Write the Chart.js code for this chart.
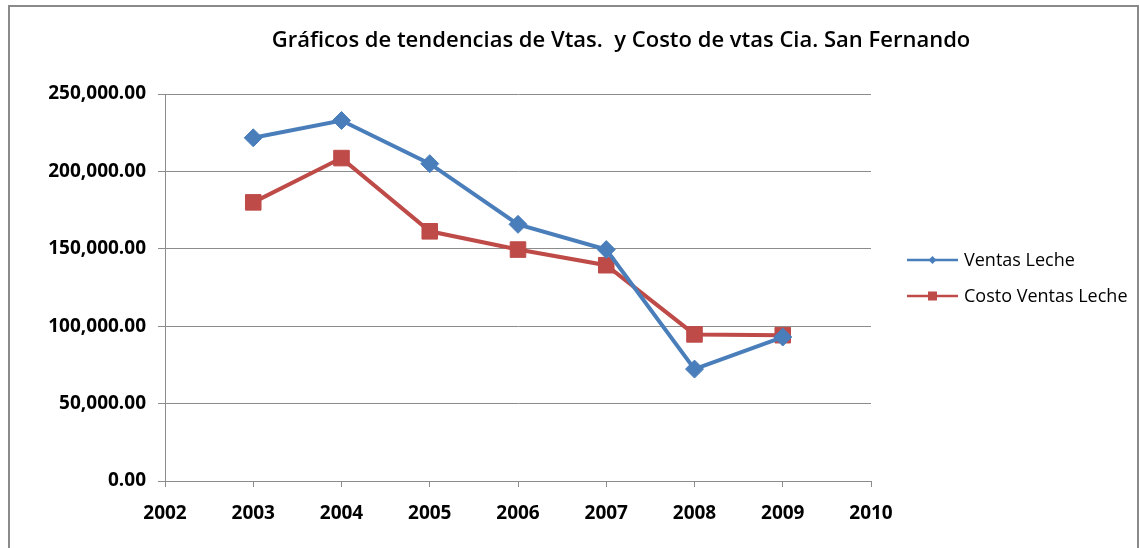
<!DOCTYPE html>
<html>
<head>
<meta charset="utf-8">
<script src="https://cdn.jsdelivr.net/npm/chart.js@4/dist/chart.umd.min.js"></script>
<style>
  html, body { margin: 0; padding: 0; background: #fff; overflow: hidden; }
  #frame {
    position: absolute; left: 8px; top: 5px; width: 1131px; height: 600px;
    border: 2px solid #8a8a8a; box-sizing: border-box;
  }
  #wrap { position: absolute; left: 0; top: 0; width: 1139px; height: 548px; }
</style>
</head>
<body>
<div id="frame"></div>
<div id="wrap"><canvas id="chart"></canvas></div>
<script>
/* ---------- Datos ---------- */
const TITULO = 'Gráficos de tendencias de Vtas.  y Costo de vtas Cia. San Fernando';
const anios = [2003, 2004, 2005, 2006, 2007, 2008, 2009];
const ventasLeche      = [221700, 232900, 205000, 165800, 149500, 72300, 93000];
const costoVentasLeche = [180000, 208600, 161300, 149500, 139400, 94700, 94200];
const xMin = 2002, xMax = 2010;
const yMin = 0, yMax = 250000, yStep = 50000;

const AZUL = '#4a7ebb';
const ROJO = '#be4b48';
const GRIS = '#8c8c8c';
const FUENTE = "'Open Sans', 'Noto Sans', sans-serif";

/* ---------- Título y leyenda (estilo Excel) ---------- */
const decorPlugin = {
  id: 'decor',
  afterDraw(chart) {
    const ctx = chart.ctx;
    ctx.save();
    ctx.fillStyle = '#000';
    ctx.font = `600 22px ${FUENTE}`;
    ctx.textAlign = 'center';
    ctx.textBaseline = 'alphabetic';
    ctx.fillText(TITULO, 621, 47);

    // leyenda
    const items = chart.data.datasets;
    ctx.font = `18px ${FUENTE}`;
    ctx.textAlign = 'left';
    ctx.textBaseline = 'middle';
    items.forEach((ds, i) => {
      const y = 260 + i * 36;
      ctx.strokeStyle = ds.borderColor;
      ctx.lineWidth = 2.5;
      ctx.beginPath();
      ctx.moveTo(907, y); ctx.lineTo(958, y);
      ctx.stroke();
      ctx.fillStyle = ds.borderColor;
      ctx.beginPath();
      if (ds.pointStyle === 'rectRot') {
        ctx.moveTo(932.5 - 4, y); ctx.lineTo(932.5, y - 4);
        ctx.lineTo(932.5 + 4, y); ctx.lineTo(932.5, y + 4);
        ctx.closePath();
      } else {
        ctx.rect(932.5 - 4.5, y - 4.5, 9, 9);
      }
      ctx.fill();
      ctx.fillStyle = '#000';
      ctx.fillText(ds.label, 964, y + 1);
    });
    ctx.restore();
  }
};

const fmt = v => v.toLocaleString('en-US', { minimumFractionDigits: 2, maximumFractionDigits: 2 });

new Chart(document.getElementById('chart'), {
  type: 'line',
  data: {
    datasets: [
      {
        label: 'Ventas Leche',
        data: anios.map((a, i) => ({ x: a, y: ventasLeche[i] })),
        borderColor: AZUL,
        backgroundColor: AZUL,
        borderWidth: 4,
        pointStyle: 'rectRot',
        pointRadius: 9,
        pointBorderWidth: 1,
        tension: 0
      },
      {
        label: 'Costo Ventas Leche',
        data: anios.map((a, i) => ({ x: a, y: costoVentasLeche[i] })),
        borderColor: ROJO,
        backgroundColor: ROJO,
        borderWidth: 4,
        pointStyle: 'rect',
        pointRadius: 11,
        pointBorderWidth: 1,
        tension: 0
      }
    ]
  },
  options: {
    responsive: true, maintainAspectRatio: false, animation: false,
    layout: { padding: { top: 94, right: 268, left: 0, bottom: 0 } },
    plugins: { legend: { display: false }, title: { display: false }, tooltip: { enabled: false } },
    scales: {
      x: {
        type: 'linear', min: xMin, max: xMax,
        afterFit: s => { s.height = 67; },
        ticks: { stepSize: 1, padding: 15, color: '#000', font: { family: FUENTE, size: 19, weight: 'bold' },
                 callback: v => String(v) },
        grid: { drawOnChartArea: false, drawTicks: true, tickLength: 6, color: GRIS },
        border: { color: GRIS, width: 1 }
      },
      y: {
        min: yMin, max: yMax,
        afterFit: s => { s.width = 165; },
        ticks: { stepSize: yStep, padding: 12, color: '#000', font: { family: FUENTE, size: 19, weight: 'bold' },
                 callback: v => fmt(v) },
        grid: { color: GRIS, tickLength: 7, lineWidth: 1 },
        border: { color: GRIS, width: 1 }
      }
    }
  },
  plugins: [decorPlugin]
});
</script>
</body>
</html>
